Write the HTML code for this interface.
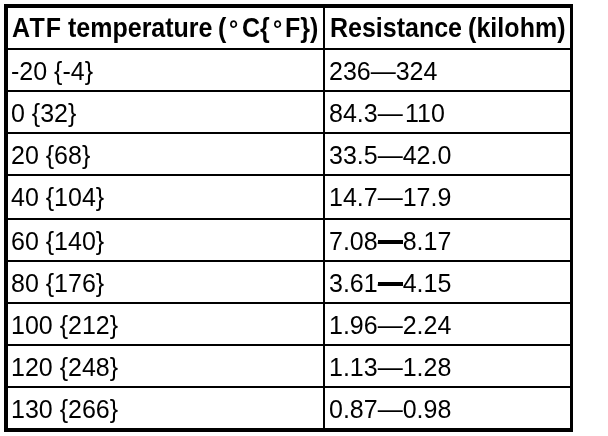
<!DOCTYPE html>
<html><head><meta charset="utf-8">
<style>
html,body{margin:0;padding:0;background:#fff;}
body{width:608px;height:436px;position:relative;overflow:hidden;font-family:"Liberation Sans",sans-serif;color:#000;}
.l{position:absolute;background:#000;}
span{position:absolute;will-change:transform;white-space:nowrap;font-size:25px;line-height:30px;transform-origin:0 0;}
.b{font-weight:bold;}
i{font-style:normal;display:inline-block;margin-left:2.3px;}
</style></head><body>
<div class="l" style="left:4px;top:4px;width:569px;height:4px"></div>
<div class="l" style="left:4px;top:428px;width:569px;height:4px"></div>
<div class="l" style="left:4px;top:4px;width:4px;height:428px"></div>
<div class="l" style="left:570px;top:4px;width:3px;height:428px"></div>
<div class="l" style="left:323px;top:4px;width:2px;height:428px"></div>
<div class="l" style="left:4px;top:48px;width:569px;height:2px"></div>
<div class="l" style="left:4px;top:90px;width:569px;height:2px"></div>
<div class="l" style="left:4px;top:132px;width:569px;height:2px"></div>
<div class="l" style="left:4px;top:174px;width:569px;height:2px"></div>
<div class="l" style="left:4px;top:218px;width:569px;height:2px"></div>
<div class="l" style="left:4px;top:260px;width:569px;height:2px"></div>
<div class="l" style="left:4px;top:302px;width:569px;height:2px"></div>
<div class="l" style="left:4px;top:344px;width:569px;height:2px"></div>
<div class="l" style="left:4px;top:386px;width:569px;height:2px"></div>
<span class="b" style="left:12px;top:11.4px;transform:scaleY(1.08);letter-spacing:1.2px">ATF</span>
<span class="b" style="left:67.5px;top:11.4px;transform:scaleY(1.08);">temperature</span>
<span class="b" style="left:218px;top:11.4px;transform:scaleY(1.08);">(</span>
<span class="b" style="left:229px;top:11.4px;transform:scaleY(1.08);font-size:23px;top:12px">°</span>
<span class="b" style="left:242px;top:11.4px;transform:scaleY(1.08);">C{</span>
<span class="b" style="left:272.5px;top:11.4px;transform:scaleY(1.08);font-size:23px;top:12px">°</span>
<span class="b" style="left:285px;top:11.4px;transform:scaleY(1.08);">F})</span>
<span class="b" style="left:330px;top:11.4px;transform:scaleY(1.08);">Resistance</span>
<span class="b" style="left:468px;top:11.4px;transform:scaleY(1.08);letter-spacing:0.05px">(kilohm)</span>
<span style="left:11px;top:56px">-20 {-4}</span>
<span style="left:329px;top:56px">236—324</span>
<span style="left:11px;top:98px">0 {32}</span>
<span style="left:329px;top:98px">84.3—<i>110</i></span>
<span style="left:11px;top:140px">20 {68}</span>
<span style="left:329px;top:140px">33.5—42.0</span>
<span style="left:11px;top:182px">40 {104}</span>
<span style="left:329px;top:182px">14.7—17.9</span>
<span style="left:11px;top:226px">60 {140}</span>
<span style="left:329px;top:226px">7.08—8.17</span>
<span style="left:11px;top:268px">80 {176}</span>
<span style="left:329px;top:268px">3.61—4.15</span>
<span style="left:11px;top:310px">100 {212}</span>
<span style="left:329px;top:310px">1.96—2.24</span>
<span style="left:11px;top:352px">120 {248}</span>
<span style="left:329px;top:352px">1.13—1.28</span>
<span style="left:11px;top:394px">130 {266}</span>
<span style="left:329px;top:394px">0.87—0.98</span>
<div class="l" style="left:378px;top:240px;width:25px;height:4px"></div>
<div class="l" style="left:378px;top:282px;width:25px;height:4px"></div>
</body></html>
